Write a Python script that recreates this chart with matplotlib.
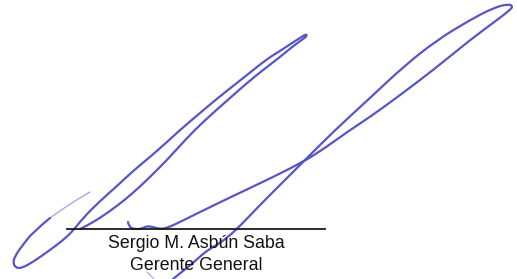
"""
plot.py - signature block: two pen loops over a rule line with the
name and title underneath. Coordinates are in image pixels (y down).
"""

import matplotlib
matplotlib.use("Agg")
import matplotlib.pyplot as plt
from matplotlib.path import Path
from matplotlib.patches import PathPatch


# ---------------------------------------------------------------------------
# Stroke data
# ---------------------------------------------------------------------------

# faint upper part of the left tail
tail_faint_x = [90, 83, 67, 50]
tail_faint_y = [192, 196, 206, 218]

# left loop: tail down to bottom-left, up the outer edge, tip, back down
left_loop_x = [50, 33, 22, 15, 13, 16, 22, 33, 50, 62, 72,
               83, 100, 117, 133, 150, 167, 180, 200, 213, 233, 247, 267, 280, 292, 300, 306,
               307,
               303, 292, 280, 263, 247, 230, 213, 200, 187, 167, 150, 133, 117, 100, 88, 80]
left_loop_y = [218, 232, 246, 256, 263, 268, 268, 262, 250, 241, 232,
               218, 201, 186, 171, 157, 142, 130, 113, 102, 86, 75, 59, 51, 43, 38, 34,
               36,
               39, 47, 57, 70, 83, 98, 113, 125, 138, 160, 177, 193, 206, 218, 225, 229]

# right stroke: squiggle, shallow line up to the tip, steep line down to the edge
right_loop_x = [128, 129, 134, 141, 147, 153, 160, 167,
                180, 200, 233, 267, 303, 325, 350, 370, 403, 437, 470, 497, 510,
                513,
                508, 493, 470, 437, 403, 370, 347, 325, 303, 280, 260, 240, 227, 215,
                205, 193, 183, 173]
right_loop_y = [222, 227, 229, 229, 226, 227, 229, 228,
                222, 212, 196, 180, 162, 148, 130, 117, 93, 67, 40, 20, 10,
                6,
                4, 8, 20, 40, 67, 98, 119, 140, 162, 185, 205, 226, 238, 246,
                252, 263, 271, 279]

# small faint mark below "Gerente"
mark_x = [147, 154]
mark_y = [272, 279]

# rule line under the signature
rule_x = [67, 325]
rule_y = [229, 229]

name_text = "Sergio M. Asbún Saba"
title_text = "Gerente General"

INK = "#5656c6"


def pen_stroke(ax, xs, ys, **kw):
    """Draw the traced points as a smooth quadratic pen path."""
    pts = list(zip(xs, ys))
    verts = [pts[0]]
    codes = [Path.MOVETO]
    for i in range(1, len(pts) - 1):
        mid = ((pts[i][0] + pts[i + 1][0]) / 2, (pts[i][1] + pts[i + 1][1]) / 2)
        verts += [pts[i], mid]
        codes += [Path.CURVE3, Path.CURVE3]
    verts.append(pts[-1])
    codes.append(Path.LINETO)
    ax.add_patch(PathPatch(Path(verts, codes), fill=False, capstyle="round",
                           joinstyle="round", **kw))


fig = plt.figure(figsize=(5.17, 2.79), dpi=100)
ax = fig.add_axes([0, 0, 1, 1])
ax.set_xlim(0, 517)
ax.set_ylim(279, 0)
ax.axis("off")

pen_stroke(ax, tail_faint_x, tail_faint_y, edgecolor=INK, lw=0.9, alpha=0.55)
pen_stroke(ax, left_loop_x, left_loop_y, edgecolor=INK, lw=1.6)
pen_stroke(ax, right_loop_x, right_loop_y, edgecolor=INK, lw=1.6)
pen_stroke(ax, mark_x, mark_y, edgecolor=INK, lw=0.9, alpha=0.5)

ax.plot(rule_x, rule_y, color="#1a1a1a", lw=1.3)

ax.text(196, 248.5, name_text, ha="center", va="baseline",
        fontsize=12.8, family="Liberation Sans", color="#111111")
ax.text(196, 270, title_text, ha="center", va="baseline",
        fontsize=12.8, family="Liberation Sans", color="#111111")

fig.savefig("out.png", dpi=100)
plt.close(fig)
